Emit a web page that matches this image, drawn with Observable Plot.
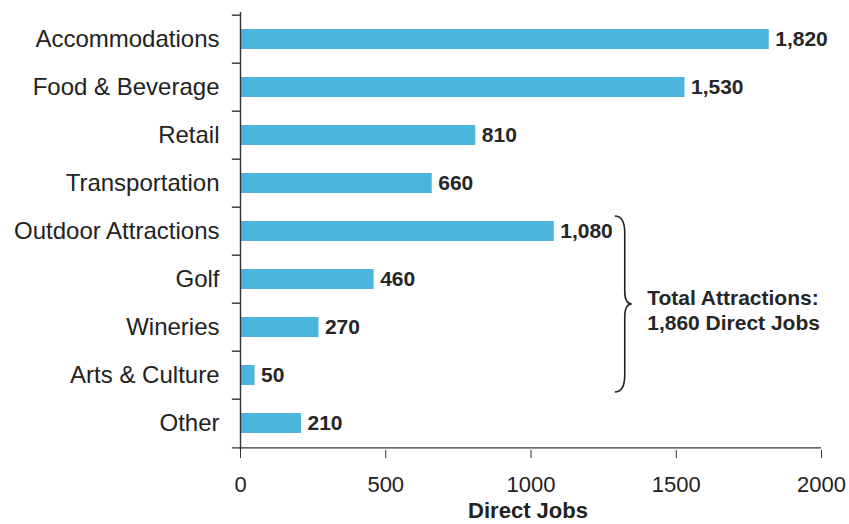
<!DOCTYPE html>
<html>
<head>
<meta charset="utf-8">
<script src="https://cdn.jsdelivr.net/npm/d3@7"></script>
<script src="https://cdn.jsdelivr.net/npm/@observablehq/plot@0.6"></script>
<style>
  html, body { margin: 0; padding: 0; background: #fff; }
  #chart svg { display: block; }
</style>
</head>
<body>
<div id="chart"></div>
<script>
const categories = ["Accommodations", "Food & Beverage", "Retail", "Transportation", "Outdoor Attractions", "Golf", "Wineries", "Arts & Culture", "Other"];
const jobs = [1820, 1530, 810, 660, 1080, 460, 270, 50, 210];
const xTicks = [0, 500, 1000, 1500, 2000];
const bracketFrom = "Outdoor Attractions";
const bracketTo = "Arts & Culture";
const bracketLabel = "Total Attractions:\n1,860 Direct Jobs";
const bracketLabelRow = "Wineries";
const xLabel = "Direct Jobs";

const data = categories.map((c, i) => ({category: c, jobs: jobs[i]}));

const W = 849, H = 524, mt = 12, mb = 74, ml = 240, mr = 28;
const step = (H - mt - mb) / categories.length;
const font = "'Liberation Sans', Arial, Helvetica, sans-serif";

function bracket(index, scales) {
  const {x, y} = scales;
  const bw = y.bandwidth();
  const top = y(bracketFrom) + bw / 2 - 15;
  const bottom = y(bracketTo) + bw / 2 + 17;
  const mid = (top + bottom) / 2;
  const x0 = x(1290);
  const p = `M${x0},${top} C${x0 + 7},${top} ${x0 + 10},${top + 7} ${x0 + 10},${top + 17}
    L${x0 + 10},${mid - 13} C${x0 + 10},${mid - 4} ${x0 + 13},${mid} ${x0 + 17},${mid}
    C${x0 + 13},${mid} ${x0 + 10},${mid + 4} ${x0 + 10},${mid + 13}
    L${x0 + 10},${bottom - 17} C${x0 + 10},${bottom - 7} ${x0 + 7},${bottom} ${x0},${bottom}`;
  return d3.create("svg:path")
    .attr("d", p)
    .attr("fill", "none")
    .attr("stroke", "#222")
    .attr("stroke-width", 1.6)
    .node();
}

const plot = Plot.plot({
  width: W,
  height: H,
  marginTop: mt,
  marginBottom: mb,
  marginLeft: ml,
  marginRight: mr,
  style: {fontFamily: font, background: "#fff", color: "#222"},
  x: {domain: [0, 2000], axis: null},
  y: {domain: categories, paddingInner: 0.59, paddingOuter: 0.295, axis: null},
  marks: [
    Plot.barX(data, {x: "jobs", y: "category", fill: "#4bb5dc"}),
    Plot.ruleX([0], {stroke: "#333", strokeWidth: 1.4}),
    Plot.ruleY(categories, {y: d => d, x1: -28, x2: 0, dy: -step / 2, stroke: "#333", strokeWidth: 1.4}),
    Plot.ruleY([categories[categories.length - 1]], {y: d => d, x1: -28, x2: 2000, dy: step / 2, stroke: "#333", strokeWidth: 1.4}),
    Plot.axisY({tickSize: 0, tickPadding: 21, fontSize: 24, fill: "#222"}),
    Plot.axisX({ticks: xTicks, tickSize: 8, tickPadding: 18, fontSize: 22, tickFormat: d => String(d), stroke: "#333", fill: "#222", label: null}),
    Plot.text(data, {x: "jobs", y: "category", text: d => d3.format(",")(d.jobs), textAnchor: "start", dx: 6, fontSize: 21, fontWeight: "bold", fill: "#262626"}),
    bracket,
    Plot.text([{label: bracketLabel, row: bracketLabelRow}], {x: () => 1400, y: "row", dy: -18, text: "label", textAnchor: "start", lineHeight: 1.19, fontSize: 21, fontWeight: "bold", fill: "#262626"}),
    Plot.text([xLabel], {frameAnchor: "bottom", lineAnchor: "middle", dx: -3, dy: 60, text: d => d, fontSize: 22, fontWeight: "bold", fill: "#222"})
  ]
});
document.getElementById("chart").appendChild(plot);
</script>
</body>
</html>
